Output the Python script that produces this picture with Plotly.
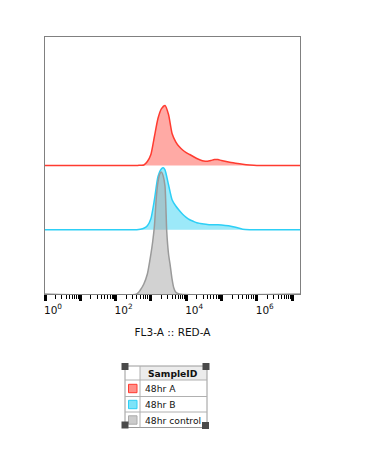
import numpy as np
import plotly.graph_objects as go

# ---------------- data (x as log10 of FL3-A intensity, y as % of stack step) ----------------
red_log = [2.3, 2.6, 2.7, 2.8, 2.9, 3.0, 3.1, 3.2, 3.3, 3.4, 3.5, 3.6, 3.7, 3.8, 3.9, 4.0,
           4.1, 4.2, 4.3, 4.4, 4.5, 4.6, 4.7, 4.8, 4.9, 5.0, 5.2, 5.4, 5.6, 5.8, 6.0]
red_val = [0, 0, 0.5, 0.8, 6.2, 17.1, 45.1, 73.1, 88.6, 93.3, 79.3, 49.8, 37.3, 29.5, 24.1, 20.2,
           17.1, 14.0, 10.9, 8.6, 7.0, 6.7, 7.8, 9.3, 9.3, 7.8, 5.4, 3.6, 2.0, 0.8, 0]

cyan_log = [2.3, 2.6, 2.7, 2.8, 2.9, 3.0, 3.1, 3.2, 3.3, 3.35, 3.4, 3.5, 3.6, 3.7, 3.8, 3.9, 4.0,
            4.1, 4.2, 4.3, 4.4, 4.5, 4.6, 4.7, 4.8, 4.9, 5.0, 5.2, 5.4, 5.6, 5.8]
cyan_val = [0, 0, 0.8, 2.3, 6.2, 17.1, 46.7, 82.4, 94.9, 96.4, 93.3, 70.0, 46.7, 37.3, 30.3, 24.1, 19.4,
            15.6, 13.2, 10.9, 9.8, 8.9, 8.2, 7.8, 7.8, 7.8, 7.5, 6.2, 3.9, 0.8, 0]

gray_log = [2.6, 2.7, 2.8, 2.9, 3.0, 3.05, 3.1, 3.15, 3.2, 3.25, 3.3, 3.35, 3.4, 3.45, 3.5,
            3.55, 3.6, 3.65, 3.7, 3.8]
gray_val = [0, 6.2, 15.6, 31.1, 62.2, 80.9, 105.8, 147.7, 174.2, 186.6, 189.7, 183.5, 168.0, 96.4, 62.2,
            43.5, 23.3, 9.3, 3.1, 0]

samples = ["48hr A", "48hr B", "48hr control"]
offsets = [200, 100, 0]
line_colors = ["#ff3b30", "#2dcff6", "#9a9a9a"]
fill_colors = ["#ffaaa5", "#9ce9f9", "rgba(165,165,165,0.5)"]
series = [(red_log, red_val), (cyan_log, cyan_val), (gray_log, gray_val)]

x_min_log, x_max_log = 0.0, np.log10(16777215)
decades = list(range(0, 8))
tick_text = ["10<sup>%d</sup>" % d if d % 2 == 0 else "" for d in decades]

fig = go.Figure()
for (lg, val), off, lc, fc, name in zip(series, offsets, line_colors, fill_colors, samples):
    xs = np.concatenate([[x_min_log], lg, [x_max_log]])
    ys = np.concatenate([[0], val, [0]]) + off
    fig.add_trace(go.Scatter(x=10 ** np.array([x_min_log, x_max_log]), y=[off, off], mode="lines",
                             line=dict(width=0), hoverinfo="skip", showlegend=False))
    fig.add_trace(go.Scatter(x=10 ** xs, y=ys, mode="lines", name=name, fill="tonexty",
                             fillcolor=fc, line=dict(color=lc, width=1.5, shape="spline", smoothing=0.6),
                             showlegend=False))

W, H = 378, 469
L, R, T, B = 45, 78, 37, 175
pw, ph = W - L - R, H - T - B


def px(x):
    return (x - L) / pw


def py(y):
    return (H - B - y) / ph


shapes = []
annos = []
# legend table
tx0, tx1, ty0, ty1 = 125, 207, 366, 427.5
col = 140
row_lines = [380, 396.5, 412]
shapes.append(dict(type="rect", xref="paper", yref="paper", x0=px(col), x1=px(tx1), y0=py(366), y1=py(380),
                   fillcolor="#ececec", line=dict(width=0), layer="below"))
shapes.append(dict(type="rect", xref="paper", yref="paper", x0=px(tx0), x1=px(tx1), y0=py(ty1), y1=py(ty0),
                   line=dict(color="#9a9a9a", width=1)))
shapes.append(dict(type="line", xref="paper", yref="paper", x0=px(col), x1=px(col), y0=py(ty1), y1=py(ty0),
                   line=dict(color="#b0b0b0", width=1)))
for rl in row_lines:
    shapes.append(dict(type="line", xref="paper", yref="paper", x0=px(tx0), x1=px(tx1), y0=py(rl), y1=py(rl),
                       line=dict(color="#b0b0b0", width=1)))
annos.append(dict(text="<b>SampleID</b>", x=px(173), y=py(373), xref="paper", yref="paper", showarrow=False,
                  xanchor="center", yanchor="middle", font=dict(family="DejaVu Sans", size=9.2, color="#111")))
row_centers = [388.5, 404.5, 420]
for name, rc, lc, fc in zip(samples, row_centers, line_colors, ["#ff8f88", "#7de3f8", "#cccccc"]):
    shapes.append(dict(type="rect", xref="paper", yref="paper", x0=px(128.5), x1=px(137), y0=py(rc + 4.2),
                       y1=py(rc - 4.2), fillcolor=fc, line=dict(color=lc if name != "48hr control" else "#aaaaaa", width=1)))
    annos.append(dict(text=name, x=px(142.5), y=py(rc), xref="paper", yref="paper", showarrow=False,
                      xanchor="left", yanchor="middle", font=dict(family="DejaVu Sans", size=9.2, color="#111")))
# selection handles
for hx, hy in [(125, 366.5), (206, 366.5), (125, 425), (205.5, 425.5)]:
    shapes.append(dict(type="rect", xref="paper", yref="paper", x0=px(hx - 3.5), x1=px(hx + 3.5),
                       y0=py(hy + 3.5), y1=py(hy - 3.5), fillcolor="#4a4a4a", line=dict(width=0)))

fig.update_layout(
    width=W, height=H, margin=dict(l=L, r=R, t=T, b=B),
    paper_bgcolor="white", plot_bgcolor="white", showlegend=False,
    shapes=shapes, annotations=annos,
    xaxis=dict(type="log", range=[x_min_log, x_max_log], showgrid=False, zeroline=False,
               showline=True, linecolor="#808080", linewidth=1, mirror=True,
               ticks="outside", ticklen=6, tickwidth=2.5, tickcolor="black",
               tickvals=[10 ** d for d in decades], ticktext=tick_text, ticklabelshift=8,
               tickfont=dict(family="DejaVu Sans", size=10.5, color="#111"),
               minor=dict(ticks="outside", ticklen=3.5, tickwidth=1.2, tickcolor="black", dtick="D1"),
               title=dict(text="FL3-A :: RED-A", font=dict(family="DejaVu Sans", size=10.5, color="#111"),
                          standoff=14)),
    yaxis=dict(range=[0, 400], showgrid=False, zeroline=False, showticklabels=False, ticks="",
               showline=True, linecolor="#808080", linewidth=1, mirror=True),
)
fig.write_html("out.html")
